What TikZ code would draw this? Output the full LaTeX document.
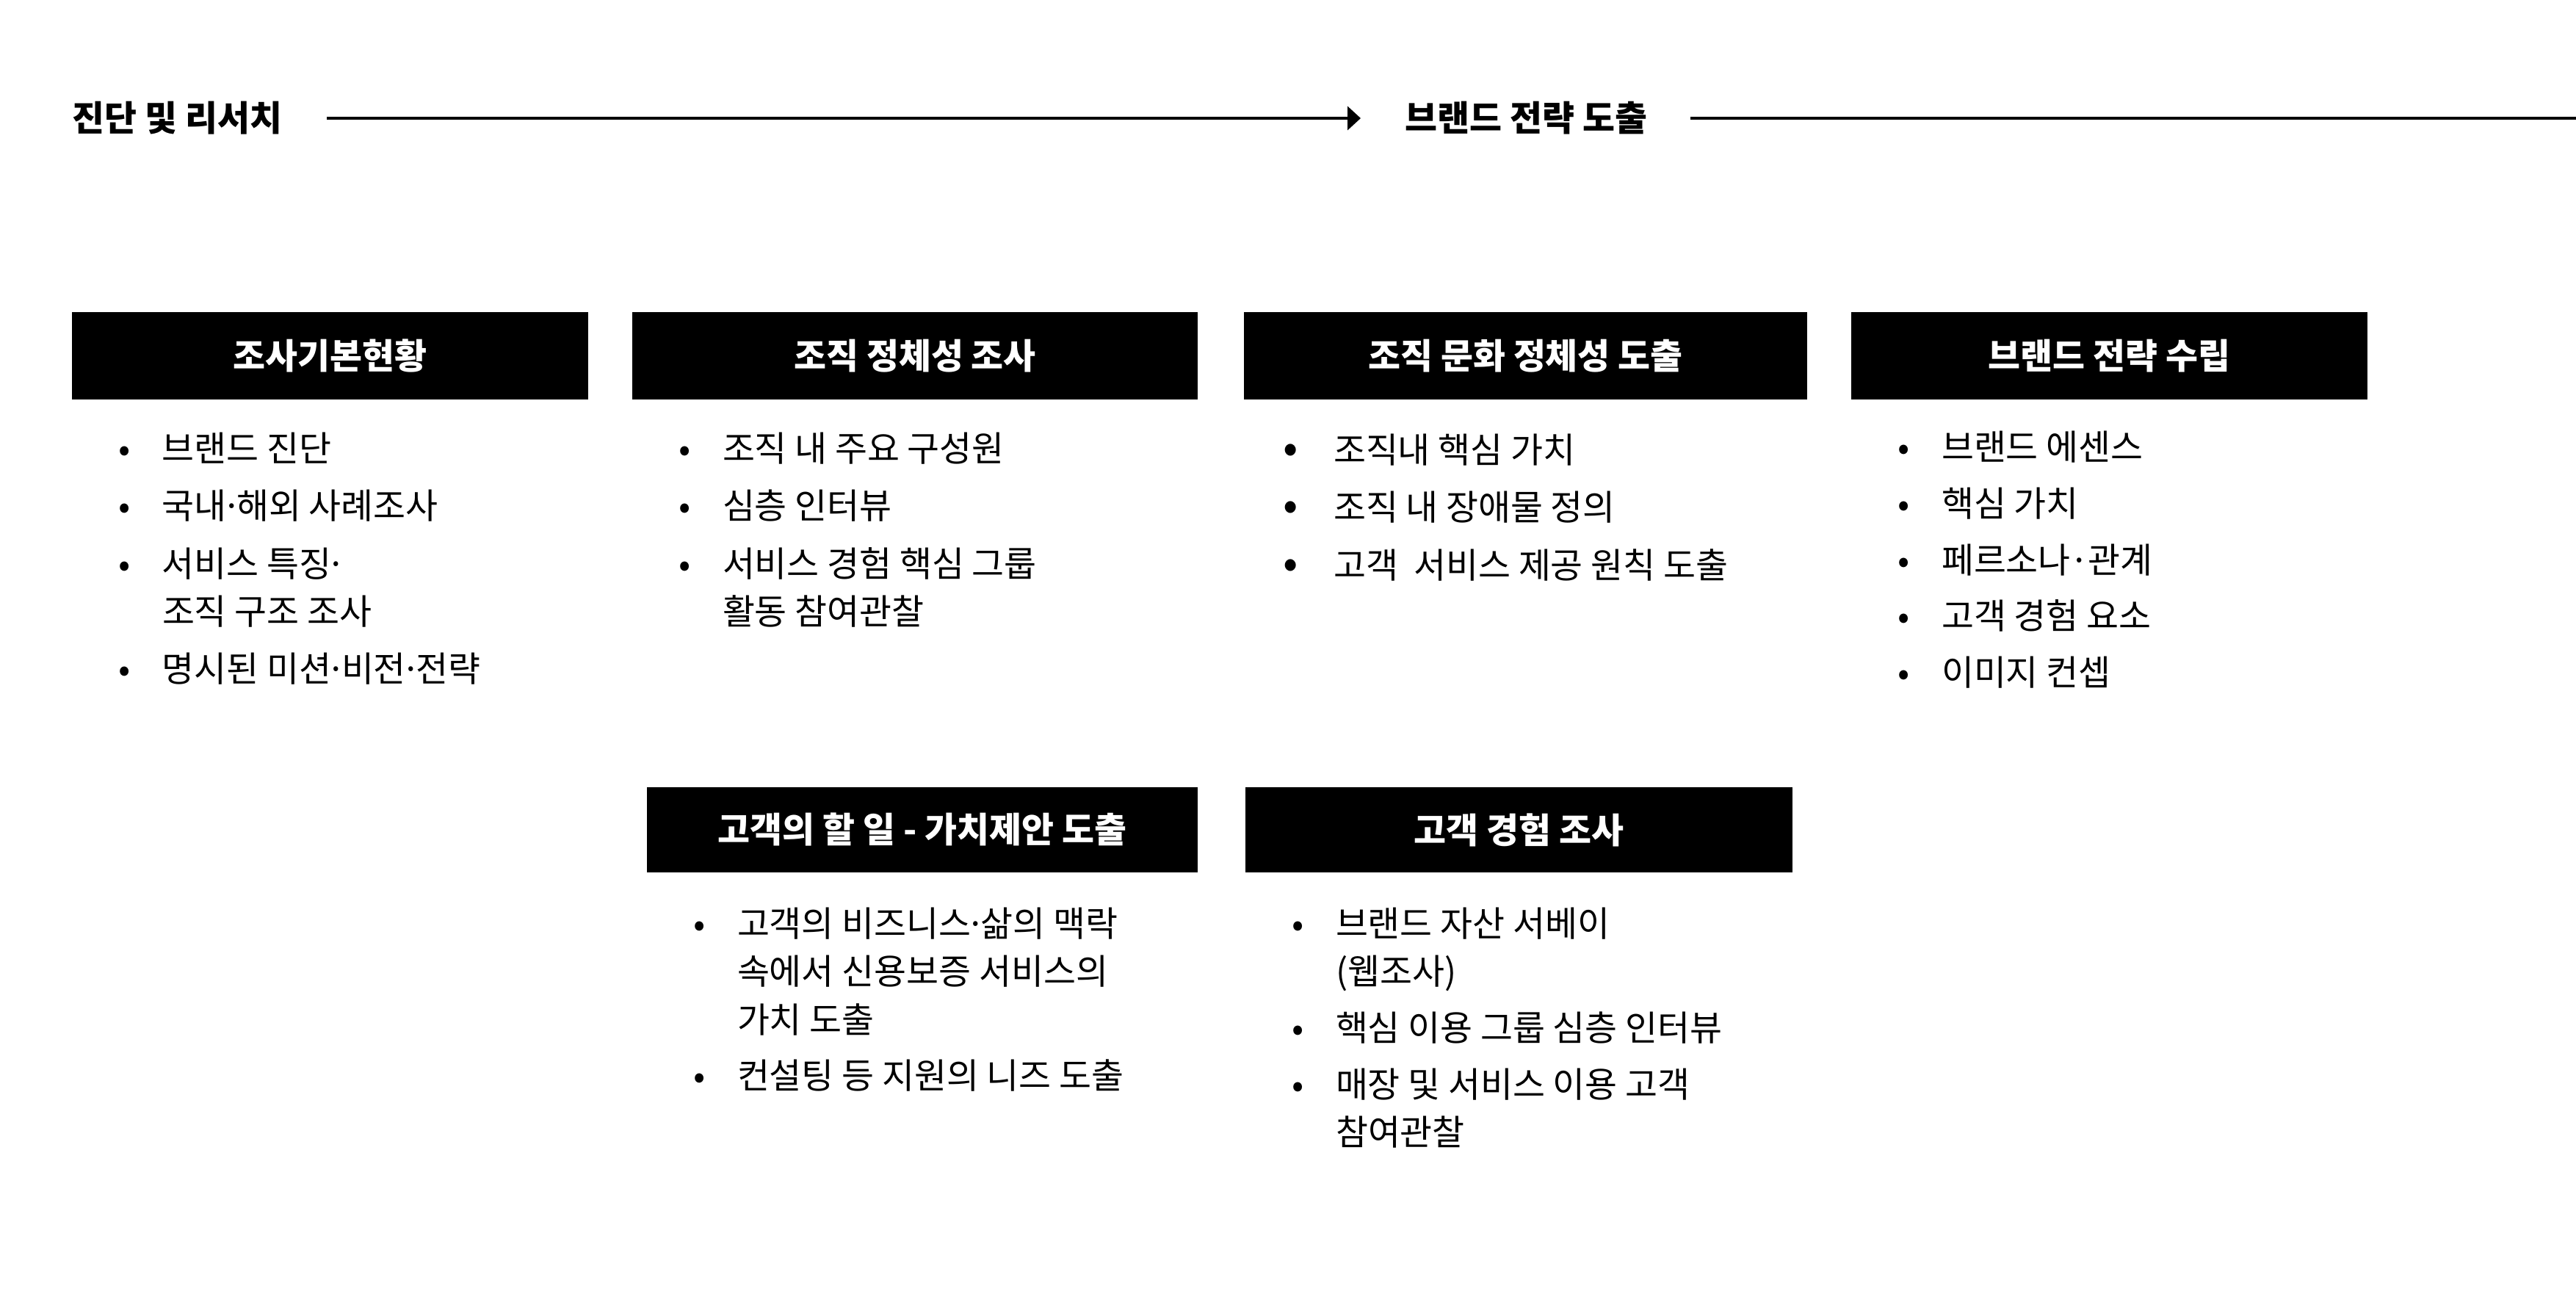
\documentclass[tikz,border=0pt]{standalone}
\usepackage{fontspec}
\setmainfont{Noto Sans CJK KR}
\usetikzlibrary{arrows.meta,positioning}
\tikzset{
  head/.style={font=\bfseries\fontsize{13.6}{16}\selectfont, inner sep=0pt, anchor=west},
  titlebox/.style={fill=black, text=white, font=\bfseries\fontsize{13.6}{16}\selectfont, minimum height=1.19cm, inner sep=0pt},
  items/.style={align=left, font=\fontsize{13.6}{18.5}\selectfont, inner sep=0pt},
  arr/.style={-{Triangle[length=1.8mm, width=3.2mm]}, line width=1.1pt},
  flow/.style={line width=1.1pt}}
\newcommand{\blt}{\makebox[6.0mm][l]{•}}
\newcommand{\bigblt}{\makebox[6.9mm][l]{\fontsize{17}{18.5}\selectfont •}}
\newcommand{\ind}{\hspace*{6.0mm}}
\newcommand{\md}{\makebox[0.28em]{·}}

\begin{document}
\begin{tikzpicture}
  \useasboundingbox (0,0) rectangle (35.08,-17.72);

  % phases
  \node[head] (h1) at (0.98,-1.61) {진단 및 리서치};
  \node[head] (h2) at (19.13,-1.61) {브랜드 전략 도출};
  \coordinate (rim) at (35.08,-1.61);
  \draw[arr] ([xshift=6mm]h1.east) -- ([xshift=-6mm]h2.west);
  \draw[flow] ([xshift=5.8mm]h2.east) -- (rim);

  % title boxes
  \node[titlebox, minimum width=7.03cm] (t1) at (4.495,-4.845) {조사기본현황};
  \node[titlebox, minimum width=7.70cm] (t2) at (12.46,-4.845) {조직 정체성 조사};
  \node[titlebox, minimum width=7.67cm] (t3) at (20.775,-4.845) {조직 문화 정체성 도출};
  \node[titlebox, minimum width=7.03cm] (t4) at (28.725,-4.845) {브랜드 전략 수립};
  \node[titlebox, minimum width=7.50cm, minimum height=1.16cm] (t5) at (12.56,-11.30) {고객의 할 일 - 가치제안 도출};
  \node[titlebox, minimum width=7.45cm, minimum height=1.16cm] (t6) at (20.685,-11.30) {고객 경험 조사};

  % bullet lists
  \node[items, below=4.4mm of t1.south west, anchor=north west, xshift=6.3mm] (l1) {\blt 브랜드 진단\\[3.7pt]
    \blt 국내\md 해외 사례조사\\[3.7pt]
    \blt 서비스 특징\md\\
    \ind 조직 구조 조사\\[3.7pt]
    \blt 명시된 미션\md 비전\md 전략};
  \node[items, below=4.4mm of t2.south west, anchor=north west, xshift=6.3mm] (l2) {\blt 조직 내 주요 구성원\\[3.7pt]
    \blt 심층 인터뷰\\[3.7pt]
    \blt 서비스 경험 핵심 그룹\\
    \ind 활동 참여관찰};
  \node[items, below=4.6mm of t3.south west, anchor=north west, xshift=5.3mm] (l3) {\bigblt 조직내 핵심 가치\\[3.7pt]
    \bigblt 조직 내 장애물 정의\\[3.7pt]
    \bigblt 고객\ \ 서비스 제공 원칙 도출};
  \node[items, below=4.2mm of t4.south west, anchor=north west, xshift=6.3mm] (l4) {\blt 브랜드 에센스\\[3.3pt]
    \blt 핵심 가치\\[3.3pt]
    \blt 페르소나\makebox[0.5em]{·}관계\\[3.3pt]
    \blt 고객 경험 요소\\[3.3pt]
    \blt 이미지 컨셉};
  \node[items, below=4.7mm of t5.south west, anchor=north west, xshift=6.3mm] (l5) {\blt 고객의 비즈니스\md 삶의 맥락\\
    \ind 속에서 신용보증 서비스의\\
    \ind 가치 도출\\[3.3pt]
    \blt 컨설팅 등 지원의 니즈 도출};
  \node[items, below=4.7mm of t6.south west, anchor=north west, xshift=6.3mm] (l6) {\blt 브랜드 자산 서베이\\
    \ind (웹조사)\\[3.3pt]
    \blt 핵심 이용 그룹 심층 인터뷰\\[3.3pt]
    \blt 매장 및 서비스 이용 고객\\
    \ind 참여관찰};
\end{tikzpicture}
\end{document}
